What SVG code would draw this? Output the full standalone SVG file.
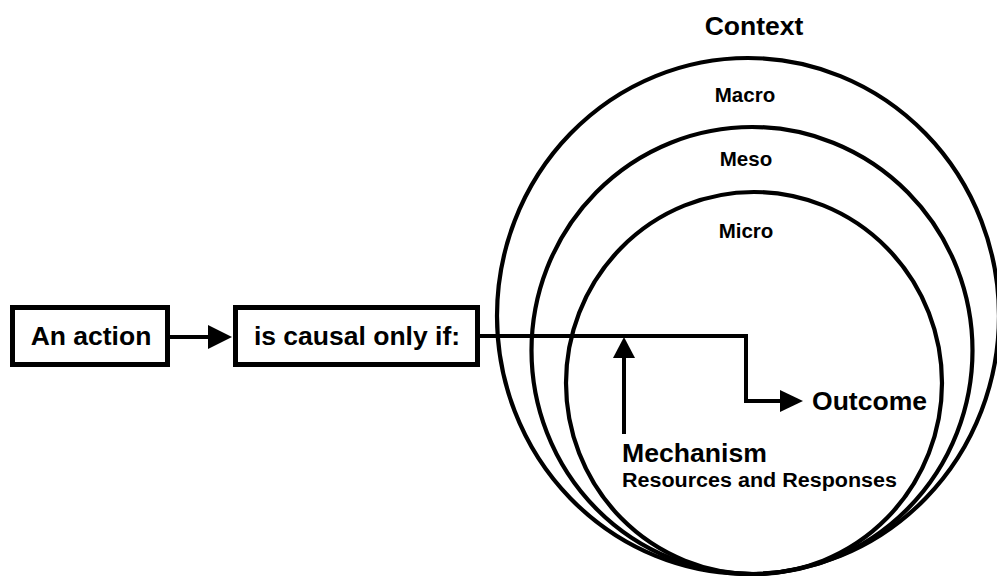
<svg xmlns="http://www.w3.org/2000/svg" width="997" height="576" viewBox="0 0 997 576">
  <defs>
    <style>
      .ring { fill: none; stroke: #000; stroke-width: 4.2; }
      .box { fill: #fff; stroke: #000; stroke-width: 5; }
      .wire { fill: none; stroke: #000; stroke-width: 4; }
      .head { fill: #000; stroke: none; }
      text { font-family: "Liberation Sans", Arial, sans-serif; font-weight: bold; fill: #000; }
      .big { font-size: 26.5px; }
      .lvl { font-size: 20.5px; text-anchor: middle; }
    </style>
  </defs>
  <rect width="997" height="576" fill="#fff"/>

  <!-- Nested context levels -->
  <g id="context">
    <ellipse id="macro" class="ring" cx="748" cy="316" rx="251" ry="258"/>
    <ellipse id="meso" class="ring" cx="752" cy="350.5" rx="220.5" ry="223.5"/>
    <ellipse id="micro" class="ring" cx="754" cy="383" rx="188" ry="191"/>
    <text class="big" x="754" y="35" text-anchor="middle">Context</text>
    <text class="lvl" x="745" y="102">Macro</text>
    <text class="lvl" x="746" y="166">Meso</text>
    <text class="lvl" x="746" y="238">Micro</text>
  </g>

  <!-- Connectors -->
  <g id="connectors">
    <line class="wire" x1="168" y1="337" x2="210" y2="337"/>
    <polygon class="head" points="208,325 232,337 208,349"/>
    <path class="wire" d="M478 336 H746 V401 H782"/>
    <polygon class="head" points="780,390 803,401 780,412"/>
    <line class="wire" x1="624" y1="434" x2="624" y2="356"/>
    <polygon class="head" points="613,358 624,337 635,358"/>
  </g>

  <g id="action">
    <rect class="box" x="12.5" y="307.5" width="155" height="57"/>
    <text class="big" x="91" y="345" text-anchor="middle" font-size="27">An action</text>
  </g>

  <g id="causal">
    <rect class="box" x="235.5" y="307.5" width="242" height="57"/>
    <text class="big" x="357" y="345" text-anchor="middle" font-size="27">is causal only if:</text>
  </g>

  <g id="outcome">
    <text class="big" x="812" y="410" textLength="115" lengthAdjust="spacingAndGlyphs">Outcome</text>
  </g>

  <g id="mechanism">
    <text x="622" y="462" font-size="25" textLength="145" lengthAdjust="spacingAndGlyphs">Mechanism</text>
    <text x="622" y="487" font-size="20" textLength="275" lengthAdjust="spacingAndGlyphs">Resources and Responses</text>
  </g>
</svg>
